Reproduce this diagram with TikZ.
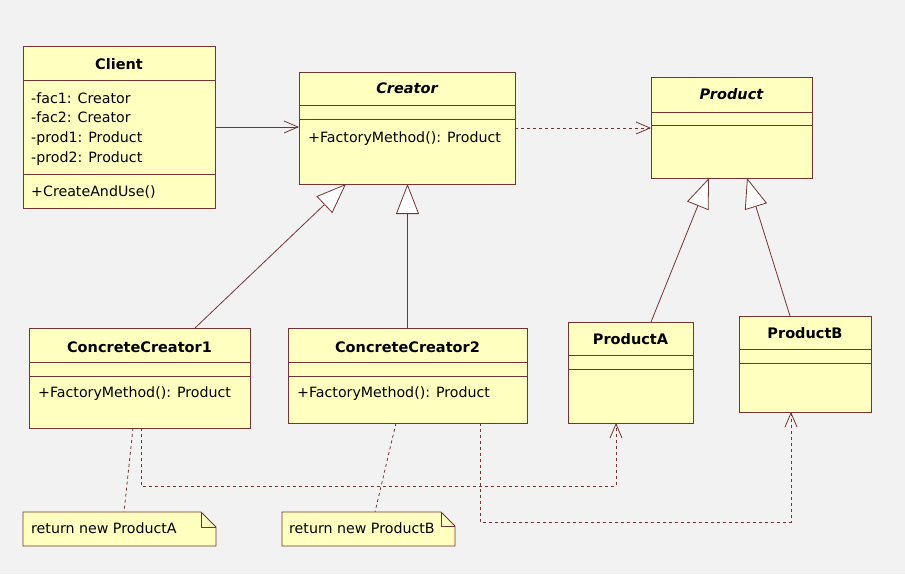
\documentclass[tikz,border=0pt]{standalone}
\usepackage{fontspec}
\setmainfont{DejaVu Sans}
\usetikzlibrary{arrows.meta,calc}
\definecolor{bordc}{HTML}{773232}
\definecolor{boxfill}{HTML}{FFFFC0}
\definecolor{bgc}{HTML}{F2F2F2}
\begin{document}
\begin{tikzpicture}[x=1pt,y=-1pt,
  cls/.style={draw=bordc, fill=boxfill, line width=0.9pt, anchor=north west, inner sep=0pt, outer sep=0pt},
  sepline/.style={draw=bordc, line width=0.9pt},
  txt/.style={anchor=base west, inner sep=0pt, font=\fontsize{14.2}{17}\selectfont},
  ttl/.style={anchor=base, inner sep=0pt, font=\fontsize{14.5}{17}\selectfont\bfseries},
  ittl/.style={ttl, font=\fontsize{14.5}{17}\selectfont\bfseries\itshape},
  conn/.style={draw=bordc, line width=0.8pt},
  assoc/.style={conn, -{Straight Barb[length=14pt,width=12pt]}},
  dep/.style={conn, dash pattern=on 3pt off 3pt, -{Straight Barb[length=14pt,width=12pt]}},
  inh/.style={conn, -{Triangle[length=30pt,width=23pt,fill=white]}},
  notelink/.style={conn, dash pattern=on 3pt off 3pt},
  notebox/.style={anchor=north west, inner sep=0pt, outer sep=0pt}
]
\fill[bgc] (0,0) rectangle (905,574);
\useasboundingbox (0,0) rectangle (905,574);

% Client
\node[cls, minimum width=192pt, minimum height=162pt] (client) at (23,46) {};
\draw[sepline] ($(client.north west)+(0,34)$) -- ($(client.north east)+(0,34)$);
\draw[sepline] ($(client.north west)+(0,128)$) -- ($(client.north east)+(0,128)$);
\node[ttl] (clientT) at (119,69) {Client};
\node[txt] (clientA1) at (31,103) {-fac1: Creator};
\node[txt] (clientA2) at (31,122.5) {-fac2: Creator};
\node[txt] (clientA3) at (31,142) {-prod1: Product};
\node[txt] (clientA4) at (31,162) {-prod2: Product};
\node[txt] (clientM) at (31,196) {+CreateAndUse()};

% Creator
\node[cls, minimum width=216pt, minimum height=112pt] (creator) at (299,72) {};
\draw[sepline] ($(creator.north west)+(0,33)$) -- ($(creator.north east)+(0,33)$);
\draw[sepline] ($(creator.north west)+(0,47)$) -- ($(creator.north east)+(0,47)$);
\node[ittl] (creatorT) at (407,93) {Creator};
\node[txt] (creatorM) at (308,142) {+FactoryMethod(): Product};

% Product
\node[cls, minimum width=161pt, minimum height=101pt] (product) at (651,77) {};
\draw[sepline] ($(product.north west)+(0,35)$) -- ($(product.north east)+(0,35)$);
\draw[sepline] ($(product.north west)+(0,48)$) -- ($(product.north east)+(0,48)$);
\node[ittl] (productT) at (731.5,99) {Product};

% ConcreteCreator1
\node[cls, minimum width=221pt, minimum height=100pt] (cc1) at (29,328) {};
\draw[sepline] ($(cc1.north west)+(0,34)$) -- ($(cc1.north east)+(0,34)$);
\draw[sepline] ($(cc1.north west)+(0,48)$) -- ($(cc1.north east)+(0,48)$);
\node[ttl] (cc1T) at (139.5,352) {ConcreteCreator1};
\node[txt] (cc1M) at (38,397) {+FactoryMethod(): Product};

% ConcreteCreator2
\node[cls, minimum width=239pt, minimum height=95pt] (cc2) at (288,328) {};
\draw[sepline] ($(cc2.north west)+(0,34)$) -- ($(cc2.north east)+(0,34)$);
\draw[sepline] ($(cc2.north west)+(0,48)$) -- ($(cc2.north east)+(0,48)$);
\node[ttl] (cc2T) at (407.5,352) {ConcreteCreator2};
\node[txt] (cc2M) at (297,397) {+FactoryMethod(): Product};

% ProductA
\node[cls, minimum width=125pt, minimum height=101pt] (pa) at (568,322) {};
\draw[sepline] ($(pa.north west)+(0,33)$) -- ($(pa.north east)+(0,33)$);
\draw[sepline] ($(pa.north west)+(0,47)$) -- ($(pa.north east)+(0,47)$);
\node[ttl] (paT) at (630.5,344) {ProductA};

% ProductB
\node[cls, minimum width=132pt, minimum height=96pt] (pb) at (739,316) {};
\draw[sepline] ($(pb.north west)+(0,33)$) -- ($(pb.north east)+(0,33)$);
\draw[sepline] ($(pb.north west)+(0,47)$) -- ($(pb.north east)+(0,47)$);
\node[ttl] (pbT) at (805,338) {ProductB};

% Notes
\node[notebox, minimum width=193pt, minimum height=34pt] (noteA) at (23,512) {};
\filldraw[draw=bordc, fill=boxfill, line width=0.9pt]
  (noteA.north west) -- ($(noteA.north east)+(-15,0)$) -- ($(noteA.north east)+(0,15)$)
  -- (noteA.south east) -- (noteA.south west) -- cycle;
\draw[sepline] ($(noteA.north east)+(-15,0)$) -- ++(0,15) -- ++(15,0);
\node[txt] (noteAT) at (31,533) {return new ProductA};

\node[notebox, minimum width=173pt, minimum height=34pt] (noteB) at (282,512) {};
\filldraw[draw=bordc, fill=boxfill, line width=0.9pt]
  (noteB.north west) -- ($(noteB.north east)+(-14,0)$) -- ($(noteB.north east)+(0,14)$)
  -- (noteB.south east) -- (noteB.south west) -- cycle;
\draw[sepline] ($(noteB.north east)+(-14,0)$) -- ++(0,14) -- ++(14,0);
\node[txt] (noteBT) at (289,533) {return new ProductB};

% Connectors
\draw[assoc] (client.east) -- (client.east -| creator.west);
\draw[dep] (creator.east) -- (creator.east -| product.west);
\draw[inh] ($(cc1.north west)+(166,0)$) -- ($(creator.south west)+(47,0)$);
\draw[inh] (cc2.north) -- (cc2.north |- creator.south);
\draw[inh] ($(pa.north west)+(83,0)$) -- ($(product.south west)+(58,0)$);
\draw[inh] ($(pb.north west)+(51,0)$) -- ($(product.south west)+(96,0)$);

\draw[notelink] ($(cc1.south west)+(104,0)$) -- ($(noteA.north west)+(101,0)$);
\draw[notelink] ($(cc2.south west)+(108,0)$) -- ($(noteB.north west)+(93,0)$);

\coordinate (d1s) at ($(cc1.south west)+(112,0)$);
\coordinate (d1e) at ($(pa.south west)+(48,0)$);
\draw[dep] (d1s) -- ($(d1s)+(0,58)$) -| (d1e);
\coordinate (d2s) at ($(cc2.south west)+(192,0)$);
\coordinate (d2e) at ($(pb.south west)+(52,0)$);
\draw[dep] (d2s) -- ($(d2s)+(0,99)$) -| (d2e);
\end{tikzpicture}
\end{document}
